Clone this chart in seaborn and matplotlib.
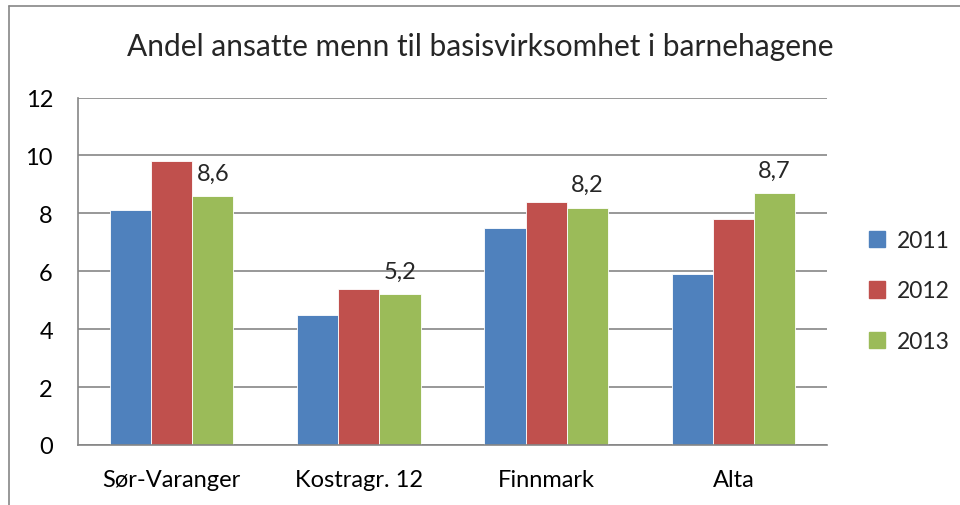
import matplotlib
matplotlib.use("Agg")
import matplotlib.pyplot as plt
import seaborn as sns
import pandas as pd
from matplotlib.lines import Line2D

categories = ["Sør-Varanger", "Kostragr. 12", "Finnmark", "Alta"]
years = ["2011", "2012", "2013"]
v2011 = [8.1, 4.5, 7.5, 5.9]
v2012 = [9.8, 5.4, 8.4, 7.8]
v2013 = [8.6, 5.2, 8.2, 8.7]
title = "Andel ansatte menn til basisvirksomhet i barnehagene"
colors = ["#4F81BD", "#C0504D", "#9BBB59"]

rows = []
for y, vals in zip(years, [v2011, v2012, v2013]):
    for c, v in zip(categories, vals):
        rows.append({"kategori": c, "år": y, "verdi": v})
df = pd.DataFrame(rows)

sns.set_theme(style="white")
plt.rcParams["font.family"] = ["Lato", "DejaVu Sans"]

fig = plt.figure(figsize=(9.6, 5.06), dpi=100)
ax = fig.add_axes([78/960, 1-446/506, (827-78)/960, (446-98.5)/506])

sns.barplot(data=df, x="kategori", y="verdi", hue="år", palette=colors,
            width=0.66, ax=ax, legend=False, edgecolor="white", linewidth=0.6,
            errorbar=None, saturation=1)

ax.set_ylim(0, 12)
ax.set_yticks(range(0, 13, 2))
ax.set_xlim(-0.5, 3.5)
ax.grid(axis="y", color="#868686", linewidth=1.2)
ax.set_axisbelow(True)
for s in ["top", "right"]:
    ax.spines[s].set_visible(False)
for s in ["left", "bottom"]:
    ax.spines[s].set_color("#868686")
    ax.spines[s].set_linewidth(1.2)
ax.set_xlabel("")
ax.set_ylabel("")
ax.tick_params(axis="y", labelsize=17, pad=18, length=0, colors="black")
ax.tick_params(axis="x", labelsize=17, pad=17, length=0, colors="black")

# data labels for 2013 only
cont = ax.containers[2]
ax.bar_label(cont, labels=[f"{v:.1f}".replace(".", ",") for v in v2013],
             fontsize=17, padding=9)

fig.text(0.5, 1-47/506, title, ha="center", va="center", fontsize=21.5)

handles = [plt.Rectangle((0, 0), 1, 1, color=c) for c in colors]
fig.legend(handles, years, loc="center left", bbox_to_anchor=(869/960, 1-292/506),
           frameon=False, fontsize=16.5, handlelength=0.7, handleheight=0.7,
           labelspacing=1.3, handletextpad=0.5, borderpad=0, borderaxespad=0)

fig.add_artist(Line2D([8.5/960, 8.5/960], [0, 1-6.5/506], color="#868686",
                      linewidth=1.2, transform=fig.transFigure))
fig.add_artist(Line2D([8.5/960, 1], [1-6.5/506, 1-6.5/506], color="#868686",
                      linewidth=1.2, transform=fig.transFigure))

fig.savefig("out.png", dpi=100)
